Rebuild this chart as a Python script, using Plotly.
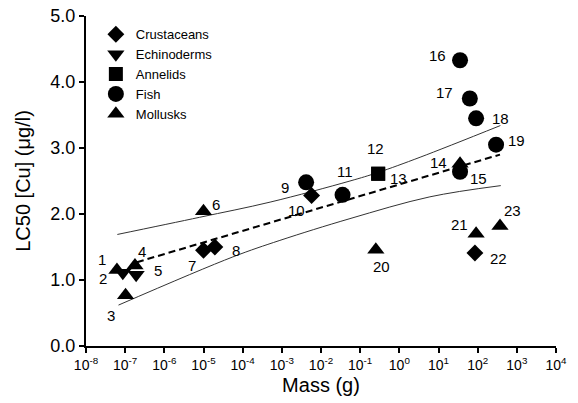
import plotly.graph_objects as go

# ---- data ----
point_ids = list(range(1, 24))
groups = ["Mollusks", "Echinoderms", "Mollusks", "Mollusks", "Echinoderms", "Mollusks",
          "Crustaceans", "Crustaceans", "Fish", "Crustaceans", "Fish", "Annelids", "Annelids",
          "Mollusks", "Fish", "Fish", "Fish", "Fish", "Fish", "Mollusks", "Mollusks",
          "Crustaceans", "Mollusks"]
log_mass = [-7.21, -7.06, -6.99, -6.75, -6.72, -5.00, -5.00, -4.71, -2.38, -2.24, -1.45, -0.54,
            -0.54, 1.55, 1.55, 1.55, 1.80, 1.96, 2.47, -0.60, 1.96, 1.93, 2.57]
lc50 = [1.15, 1.11, 0.77, 1.22, 1.08, 2.04, 1.45, 1.50, 2.48, 2.28, 2.29, 2.61,
        2.61, 2.76, 2.64, 4.33, 3.75, 3.45, 3.05, 1.46, 1.70, 1.41, 1.82]

fit_log_mass = [-6.70, 2.57]
fit_lc50 = [1.27, 2.90]

upper_log_mass = [-7.20, -5.10, -3.30, -1.26, -0.54, 0.53, 2.58]
upper_lc50 = [1.69, 1.95, 2.18, 2.50, 2.63, 2.86, 3.34]
lower_log_mass = [-7.17, -4.25, -3.05, -1.26, 0.78, 2.59]
lower_lc50 = [0.62, 1.35, 1.60, 1.93, 2.26, 2.43]

categories = ["Crustaceans", "Echinoderms", "Annelids", "Fish", "Mollusks"]
x_tick_exps = list(range(-8, 5))
x_tick_labels = ["10<sup>%d</sup>" % e for e in x_tick_exps]

# ---- styling ----
symbols = {"Crustaceans": "diamond", "Echinoderms": "triangle-down", "Annelids": "square",
           "Fish": "circle", "Mollusks": "triangle-up"}
sizes = {"Crustaceans": 13, "Echinoderms": 15, "Annelids": 14, "Fish": 16, "Mollusks": 15}
label_offsets = [(-15, -11), (-20, 6), (-15, 20), (7, -14), (22, -4), (12, -7), (-12, 15),
                 (21, 3), (-21, 5), (-15, 15), (2, -23), (-3, -25), (20, 5), (-22, -1),
                 (18, 7), (-23, -5), (-25, -6), (24, 0), (20, -4), (6, 17), (-17, -9),
                 (24, 6), (13, -15)]

FONT = "Liberation Sans, Arial, sans-serif"
fig = go.Figure()

to_mass = lambda lm: [10 ** v for v in lm]

fig.add_trace(go.Scatter(x=to_mass(upper_log_mass), y=upper_lc50, mode="lines",
                         line=dict(color="#333", width=1, shape="spline"), showlegend=False,
                         hoverinfo="skip"))
fig.add_trace(go.Scatter(x=to_mass(lower_log_mass), y=lower_lc50, mode="lines",
                         line=dict(color="#333", width=1, shape="spline"), showlegend=False,
                         hoverinfo="skip"))
fig.add_trace(go.Scatter(x=to_mass(fit_log_mass), y=fit_lc50, mode="lines",
                         line=dict(color="black", width=2, dash="7px,4px"), showlegend=False,
                         hoverinfo="skip"))

for cat in categories:
    xs = [10 ** lm for lm, g in zip(log_mass, groups) if g == cat]
    ys = [v for v, g in zip(lc50, groups) if g == cat]
    fig.add_trace(go.Scatter(x=xs, y=ys, mode="markers", name=cat,
                             marker=dict(symbol=symbols[cat], size=sizes[cat], color="black",
                                         line=dict(width=0))))

for pid, lm, v, (dx, dy) in zip(point_ids, log_mass, lc50, label_offsets):
    fig.add_annotation(x=lm, y=v, text=str(pid), showarrow=False, xshift=dx, yshift=-dy,
                       font=dict(family=FONT, size=15, color="black"))

fig.update_layout(
    template="none",
    width=578, height=403,
    margin=dict(l=78, r=30, t=8, b=65, autoexpand=False),
    paper_bgcolor="white", plot_bgcolor="white",
    font=dict(family=FONT, color="black"),
    legend=dict(x=0.021, y=0.99, xanchor="left", yanchor="top",
                font=dict(size=13, family=FONT), bgcolor="rgba(0,0,0,0)",
                itemsizing="trace", tracegroupgap=0),
    xaxis=dict(type="log", range=[-8, 4], tickvals=[10 ** e for e in x_tick_exps],
               ticktext=x_tick_labels, showgrid=False, zeroline=False, automargin=False,
               ticklabeloverflow="allow",
               showline=True, linecolor="black", linewidth=2,
               ticks="outside", ticklen=5, tickwidth=1.5, tickcolor="black",
               tickfont=dict(size=14, family=FONT),
               title=dict(text="Mass (g)", font=dict(size=20, family=FONT), standoff=6)),
    yaxis=dict(range=[0, 5], dtick=1, tickformat=".1f", showgrid=False, zeroline=False,
               automargin=False, ticklabeloverflow="allow",
               showline=True, linecolor="black", linewidth=2,
               ticks="outside", ticklen=5, tickwidth=1.5, tickcolor="black",
               tickfont=dict(size=18, family=FONT),
               title=dict(text="LC50 [Cu] (μg/l)", font=dict(size=20, family=FONT), standoff=14)),
)

fig.write_html("out.html")
